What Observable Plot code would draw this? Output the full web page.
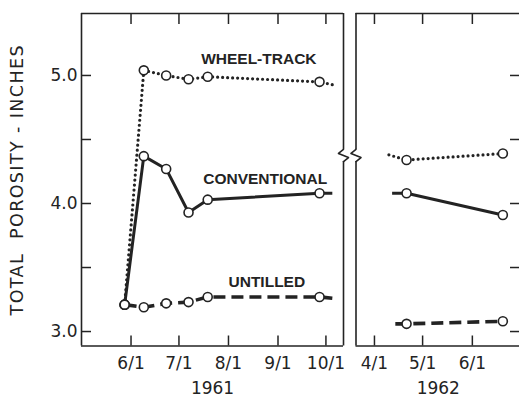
<!DOCTYPE html>
<html><head><meta charset="utf-8">
<script src="https://cdn.jsdelivr.net/npm/d3@7"></script>
<script src="https://cdn.jsdelivr.net/npm/@observablehq/plot@0.6"></script>
<style>
html,body{margin:0;padding:0;background:#fff;overflow:hidden;}
#chart{position:relative;width:519px;height:398px;overflow:hidden;background:#fff;}
#chart svg{position:absolute;top:0;overflow:visible;}
</style></head><body><div id="chart"></div>
<script>
const INK = "#232323";

// ---- 1961 season ----
const dates1961 = ["1961-05-28","1961-06-09","1961-06-23","1961-07-07","1961-07-19","1961-09-27"];
const wheel1961 = [3.21, 5.04, 5.00, 4.97, 4.99, 4.95];
const conv1961 = [3.21, 4.37, 4.27, 3.93, 4.03, 4.08];
const untilled1961 = [3.21, 3.19, 3.22, 3.23, 3.27, 3.27];
// line continuation toward the axis break (no marker)
const tailDates1961 = ["1961-10-08","1961-10-05","1961-10-05"];
const tailValues1961 = [4.92, 4.08, 3.26];

// ---- 1962 season ----
const dates1962 = ["1962-04-21","1962-06-20"];
const wheel1962 = [4.34, 4.39];
const conv1962 = [4.08, 3.91];
const untilled1962 = [3.06, 3.08];
// line lead-in from the axis break (no marker)
const leadDates1962 = ["1962-04-10","1962-04-12","1962-04-14"];
const leadValues1962 = [4.38, 4.08, 3.06];

const seriesNames = ["WHEEL-TRACK","CONVENTIONAL","UNTILLED"];
const labelDates = ["1961-08-20","1961-08-24","1961-08-25"];
const labelValues = [5.125, 4.195, 3.385];

const yMajor = [3, 4, 5];
const yMinor = [3.5, 4.5];
const monthTicks1961 = ["1961-06-01","1961-07-01","1961-08-01","1961-09-01","1961-10-01"];
const monthTicks1962 = ["1962-04-01","1962-05-01","1962-06-01"];
const yearLabels = ["1961","1962"];
const yLabel = "TOTAL\u00a0\u00a0POROSITY - INCHES";
const xDomain1961 = ["1961-05-01","1961-10-12"];
const xDomain1962 = ["1962-03-20T12:00Z","1962-07-01"];
const yDomain = [2.887, 5.484];
// axis-break zigzag: [pixel offset from border, value]
const breakShape = [[0, 4.422], [-5, 4.391], [5, 4.359], [0, 4.328]];

const D = s => new Date(s);
const seriesStyle = {
  "WHEEL-TRACK": {strokeWidth: 3.2, strokeDasharray: "0 5", strokeLinecap: "round"},
  "CONVENTIONAL": {strokeWidth: 3, strokeDasharray: null, strokeLinecap: "butt"},
  "UNTILLED": {strokeWidth: 3.6, strokeDasharray: "12 6", strokeLinecap: "butt"}
};
const values1961 = [wheel1961, conv1961, untilled1961];
const values1962 = [wheel1962, conv1962, untilled1962];

function lineMarks(pointsBySeries) {
  return seriesNames.map((name, i) => Plot.line(pointsBySeries[i], {
    x: "date", y: "value", stroke: INK, strokeLinejoin: "round", ...seriesStyle[name]
  }));
}

// ---- 1961 panel ----
const W1 = 345, ML1 = 81, MR1 = 2;
const dom1 = xDomain1961.map(D);
const pxPerMs1 = (W1 - ML1 - MR1) / (dom1[1] - dom1[0]);
const pts1961 = seriesNames.map((n, i) => dates1961.map((d, j) => ({date: D(d), value: values1961[i][j]})));
const lines1961 = seriesNames.map((n, i) => [...pts1961[i], {date: D(tailDates1961[i]), value: tailValues1961[i]}]);
const zig1 = breakShape.map(([px, v]) => ({date: new Date(+dom1[1] + px / pxPerMs1), value: v}));

const left = Plot.plot({
  width: W1, height: 398, marginLeft: ML1, marginRight: MR1, marginTop: 13, marginBottom: 52.5,
  style: {fontFamily: "'DejaVu Sans', sans-serif", fontSize: "17px", color: INK, background: "transparent"},
  x: {type: "utc", domain: dom1},
  y: {domain: yDomain},
  marks: [
    Plot.ruleX([dom1[0]], {stroke: INK, strokeWidth: 1.6}),
    Plot.ruleY([yDomain[0], yDomain[1]], {stroke: INK, strokeWidth: 1.6}),
    Plot.ruleX([dom1[1]], {y1: breakShape[0][1], y2: yDomain[1], stroke: INK, strokeWidth: 1.6}),
    Plot.ruleX([dom1[1]], {y1: yDomain[0], y2: breakShape[3][1], stroke: INK, strokeWidth: 1.6}),
    Plot.line(zig1, {x: "date", y: "value", stroke: INK, strokeWidth: 1.6}),
    Plot.axisY(yMajor, {anchor: "left", tickSize: -10, tickPadding: 14, strokeWidth: 1.5,
      tickFormat: d => d.toFixed(1), label: yLabel, labelAnchor: "center", labelOffset: 71, labelArrow: "none",
      fontSize: 17}),
    Plot.axisY(yMinor, {anchor: "left", tickSize: -10, strokeWidth: 1.5, tickFormat: () => "", label: null}),
    Plot.axisX(monthTicks1961.map(D), {anchor: "top", tickSize: -10, strokeWidth: 1.5, tickFormat: () => "", label: null}),
    Plot.axisX(monthTicks1961.map(D), {anchor: "bottom", tickSize: -10, tickPadding: 21, strokeWidth: 1.5,
      tickFormat: d => `${d.getUTCMonth() + 1}/1`, label: yearLabels[0], labelAnchor: "center", labelOffset: 48, labelArrow: "none"}),
    ...lineMarks(lines1961),
    ...pts1961.map(p => Plot.dot(p, {x: "date", y: "value", r: 4.5, fill: "white", stroke: INK, strokeWidth: 1.6})),
    Plot.text(seriesNames, {x: (d, i) => D(labelDates[i]), y: (d, i) => labelValues[i], text: d => d,
      fontFamily: "'Liberation Sans', sans-serif", fontWeight: "bold", fontSize: 15.5, fill: INK})
  ]
});
left.style.left = "0px";
d3.select(left).selectAll("[aria-label='y-axis label'] text")
  .attr("font-size", 17.5).attr("letter-spacing", 1.4);

// ---- 1962 panel ----
const X2 = 345, W2 = 180, ML2 = 10.5, MR2 = 5;
const dom2 = xDomain1962.map(D);
const pxPerMs2 = (W2 - ML2 - MR2) / (dom2[1] - dom2[0]);
const pts1962 = seriesNames.map((n, i) => dates1962.map((d, j) => ({date: D(d), value: values1962[i][j]})));
const lines1962 = seriesNames.map((n, i) => [{date: D(leadDates1962[i]), value: leadValues1962[i]}, ...pts1962[i]]);
const zig2 = breakShape.map(([px, v]) => ({date: new Date(+dom2[0] + px / pxPerMs2), value: v}));

const right = Plot.plot({
  width: W2, height: 398, marginLeft: ML2, marginRight: MR2, marginTop: 13, marginBottom: 52.5,
  style: {fontFamily: "'DejaVu Sans', sans-serif", fontSize: "17px", color: INK, background: "transparent", overflow: "visible"},
  x: {type: "utc", domain: dom2},
  y: {domain: yDomain},
  marks: [
    Plot.ruleX([dom2[1]], {stroke: INK, strokeWidth: 1.6}),
    Plot.ruleY([yDomain[0], yDomain[1]], {stroke: INK, strokeWidth: 1.6}),
    Plot.ruleX([dom2[0]], {y1: breakShape[0][1], y2: yDomain[1], stroke: INK, strokeWidth: 1.6}),
    Plot.ruleX([dom2[0]], {y1: yDomain[0], y2: breakShape[3][1], stroke: INK, strokeWidth: 1.6}),
    Plot.line(zig2, {x: "date", y: "value", stroke: INK, strokeWidth: 1.6}),
    Plot.axisY([...yMajor, ...yMinor], {anchor: "right", tickSize: -11, strokeWidth: 1.5, tickFormat: () => "", label: null}),
    Plot.axisX(monthTicks1962.map(D), {anchor: "top", tickSize: -10, strokeWidth: 1.5, tickFormat: () => "", label: null}),
    Plot.axisX(monthTicks1962.map(D), {anchor: "bottom", tickSize: -10, tickPadding: 21, strokeWidth: 1.5,
      tickFormat: d => `${d.getUTCMonth() + 1}/1`, label: yearLabels[1], labelAnchor: "center", labelOffset: 48, labelArrow: "none"}),
    ...lineMarks(lines1962),
    ...pts1962.map(p => Plot.dot(p, {x: "date", y: "value", r: 4.5, fill: "white", stroke: INK, strokeWidth: 1.6}))
  ]
});
right.style.left = X2 + "px";

const chart = document.getElementById("chart");
chart.appendChild(left);
chart.appendChild(right);
</script>
</body></html>
